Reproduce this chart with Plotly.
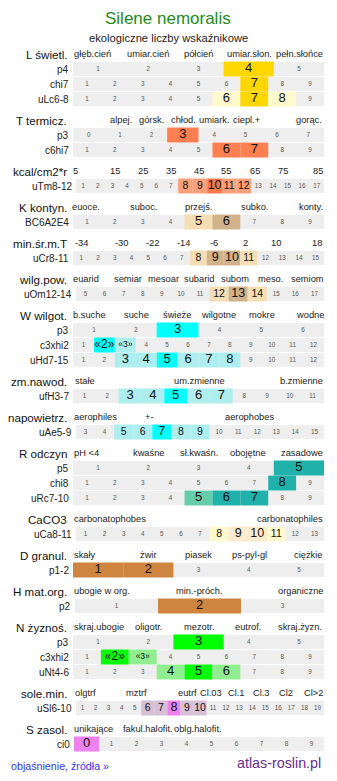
import plotly.graph_objects as go

TITLE = "Silene nemoralis"
SUBTITLE = "ekologiczne liczby wskaźnikowe"
FOOT_LEFT = "objaśnienie, źródła »"
FOOT_RIGHT = "atlas-roslin.pl"

# ---------------- data ----------------
SECTION_NAMES = ["L świetl.", "T termicz.", "kcal/cm2*r", "K kontyn.", "min.śr.m.T",
                 "wilg.pow.", "W wilgot.", "zm.nawod.", "napowietrz.", "R odczyn",
                 "CaCO3", "D granul.", "H mat.org.", "N żyznoś.", "sole.min.", "S zasol."]

SECTION_TICKS = [
    ["głęb.cień", "umiar.cień", "półcień", "umiar.słon.", "pełn.słońce"],
    ["alpej.", "górsk.", "chłod.", "umiark.", "ciepl.+", "gorąc."],
    ["5", "15", "25", "35", "45", "55", "65", "75", "85"],
    ["euoce.", "suboc.", "przejś.", "subko.", "konty."],
    ["-34", "-30", "-22", "-14", "-6", "2", "10", "18"],
    ["euarid", "semiar", "mesoar", "subarid", "subom", "meso.", "semiom"],
    ["b.suche", "suche", "świeże", "wilgotne", "mokre", "wodne"],
    ["stałe", "um.zmienne", "b.zmienne"],
    ["aerophiles", "+-", "aerophobes"],
    ["pH <4", "kwaśne", "sł.kwaśn.", "obojętne", "zasadowe"],
    ["carbonatophobes", "carbonatophiles"],
    ["skały", "żwir", "piasek", "ps-pyl-gl", "ciężkie"],
    ["ubogie w org.", "min.-próch.", "organiczne"],
    ["skraj.ubogie", "oligotr.", "mezotr.", "eutrof.", "skraj.żyzn."],
    ["olgtrf", "mztrf", "eutrf", "Cl.03", "Cl.1", "Cl.3", "Cl2", "Cl>2"],
    ["unikające", "fakul.halofit.", "oblg.halofit."],
]

ROW_SECTION = [0, 0, 0, 1, 1, 2, 3, 4, 5, 6, 6, 6, 7, 8, 9, 9, 9, 10, 11, 12, 13, 13, 13, 14, 15]
ROW_LABELS = ["p4", "chi7", "uLc6-8", "p3", "c6hi7", "uTm8-12", "BC6A2E4", "uCr8-11",
              "uOm12-14", "p3", "c3xhi2", "uHd7-15", "ufH3-7", "uAe5-9", "p5", "chi8",
              "uRc7-10", "uCa8-11", "p1-2", "p2", "p3", "c3xhi2", "uNt4-6", "uSl6-10", "ci0"]
ROW_FIRST = [1, 1, 1, 0, 1, 1, 1, 1, 5, 1, 1, 1, 1, 3, 1, 1, 1, 1, 1, 1, 1, 1, 1, 1, 0]
ROW_LAST = [5, 9, 9, 7, 9, 17, 9, 15, 17, 6, 12, 12, 11, 15, 5, 9, 9, 13, 5, 3, 5, 9, 9, 19, 9]
ROW_MAIN = [[4], [7], [7], [3], [6, 7], [10], [6], [9, 10], [13], [3], [2], [5], [5], [7],
            [5], [8], [6, 7], [9, 10], [1, 2], [2], [3], [2], [5], [8], [0]]
ROW_SECOND = [[], [], [6, 8], [], [], [8, 9, 11, 12], [5], [8, 11], [12, 14], [], [3],
              [3, 4, 6, 7, 8], [3, 4, 6, 7], [5, 6, 8, 9], [], [], [5], [8, 11], [], [], [],
              [3], [4, 6], [6, 7, 9, 10], []]
ROW_CHEVRON = ["c3xhi2"]

# ---------------- styles / layout ----------------
MAIN_COL = ["#FFD700", "#FF7F50", "#F7784A", "#D2B48C", "#D2B48C", "#D2B48C", "#00FFFF",
            "#00FFFF", "#00FFFF", "#20B2AA", "#FFEBCD", "#CD853F", "#CD853F", "#00FF00",
            "#EE82EE", "#EE82EE"]
SEC_COL = ["#FFFACD", "#FFA07A", "#FFA07A", "#F5DEB3", "#F5DEB3", "#F5DEB3", "#AFEEEE",
           "#AFEEEE", "#AFEEEE", "#66CDAA", "#FFFACD", "#CD853F", "#CD853F", "#90EE90",
           "#D8BFD8", "#D8BFD8"]

TICK_X = [
    [92.5, 148, 198, 249, 299.5],
    [121, 151, 183, 214, 246, 309],
    [75, 115, 143, 171, 199, 226, 255, 283, 318],
    [86, 143, 198, 254, 311],
    [81, 121, 152, 183, 214, 245, 276, 317],
    [86, 128, 163, 199, 235, 270, 307],
    [89, 136, 177, 218, 262, 310],
    [85, 199, 301],
    [95, 149, 249],
    [86, 149, 199, 248, 302],
    [110, 290],
    [85, 148, 198, 249, 308],
    [102, 199, 300],
    [99, 148, 199, 248, 300],
    [85, 136, 187, 211, 236, 261, 286, 313],
    [93, 148, 198],
]
STRIP_LEFT_DEFAULT = 73
STRIP_LEFT = {"uTm8-12": 76, "uOm12-14": 76, "uAe5-9": 76, "uCa8-11": 76, "uSl6-10": 76,
              "ci0": 74, "p2": 75}
STRIP_RIGHT = 324
FIRST_HEADER_Y = 54
ROW_STEP = 15
SECTION_GAP = 21
FONT = "Liberation Sans, Arial, sans-serif"

# compute vertical positions
header_y = []
row_y = []
y = FIRST_HEADER_Y
for s in range(len(SECTION_NAMES)):
    header_y.append(y)
    rows = [i for i, rs in enumerate(ROW_SECTION) if rs == s]
    for k, i in enumerate(rows):
        row_y.append(y + ROW_STEP * (k + 1))
    y = y + ROW_STEP * len(rows) + SECTION_GAP

fig = go.Figure()

# grey strips
g_y, g_base, g_len = [], [], []
h_y, h_base, h_len, h_col = [], [], [], []
t_x, t_y, t_txt, t_size, t_col = [], [], [], [], []
for i, lab in enumerate(ROW_LABELS):
    left = STRIP_LEFT.get(lab, STRIP_LEFT_DEFAULT)
    n = ROW_LAST[i] - ROW_FIRST[i] + 1
    cw = (STRIP_RIGHT - left) / n
    g_y.append(row_y[i]); g_base.append(left); g_len.append(STRIP_RIGHT - left)
    s = ROW_SECTION[i]
    chev = lab in ROW_CHEVRON and s in (6, 13)
    for v in range(ROW_FIRST[i], ROW_LAST[i] + 1):
        k = v - ROW_FIRST[i]
        cx = left + (k + 0.5) * cw
        if v in ROW_MAIN[i] or v in ROW_SECOND[i]:
            main = v in ROW_MAIN[i]
            h_y.append(row_y[i]); h_base.append(left + k * cw); h_len.append(cw)
            h_col.append(MAIN_COL[s] if main else SEC_COL[s])
            if chev:
                txt = "«%d»" % v
                size = 12 if main else 8.5
            else:
                txt = str(v)
                if cw >= 20:
                    size = 13
                else:
                    size = 12.5 if main else 10.5
            t_txt.append(txt); t_size.append(size); t_col.append("#111111")
        else:
            t_txt.append(str(v)); t_size.append(6.3); t_col.append("#555555")
        t_x.append(cx); t_y.append(row_y[i])

fig.add_trace(go.Bar(orientation="h", y=g_y, x=g_len, base=g_base, width=14,
                     marker=dict(color="#EEEEEE", line=dict(width=0)), hoverinfo="skip"))
fig.add_trace(go.Bar(orientation="h", y=h_y, x=h_len, base=h_base, width=15,
                     marker=dict(color=h_col, line=dict(width=0)), hoverinfo="skip"))
fig.add_trace(go.Scatter(x=t_x, y=t_y, mode="text", text=t_txt,
                         textposition="middle center",
                         textfont=dict(family=FONT, size=t_size, color=t_col),
                         hoverinfo="skip"))

ann = []
ann.append(dict(x=168, y=18, text=TITLE, showarrow=False, xanchor="center", yanchor="middle",
                font=dict(family=FONT, size=17, color="#228B22")))
ann.append(dict(x=168, y=38, text=SUBTITLE, showarrow=False, xanchor="center", yanchor="middle",
                font=dict(family=FONT, size=11.2, color="#222222")))
for s, name in enumerate(SECTION_NAMES):
    ann.append(dict(x=69, y=header_y[s], text=name, showarrow=False, xanchor="right",
                    yanchor="middle", font=dict(family=FONT, size=11.6, color="#111111")))
    for lab, xx in zip(SECTION_TICKS[s], TICK_X[s]):
        ann.append(dict(x=xx, y=header_y[s], text=lab, showarrow=False, xanchor="center",
                        yanchor="middle", font=dict(family=FONT, size=9.3, color="#222222")))
for i, lab in enumerate(ROW_LABELS):
    left = STRIP_LEFT.get(lab, STRIP_LEFT_DEFAULT)
    ann.append(dict(x=left - 2, y=row_y[i], text=lab, showarrow=False, xanchor="right",
                    yanchor="middle", font=dict(family=FONT, size=10, color="#222222")))
ann.append(dict(x=9, y=766, text=FOOT_LEFT, showarrow=False, xanchor="left", yanchor="middle",
                font=dict(family=FONT, size=10.7, color="#3333EE")))
ann.append(dict(x=323, y=763, text=FOOT_RIGHT, showarrow=False, xanchor="right", yanchor="middle",
                font=dict(family=FONT, size=14.3, color="#662D91")))

fig.update_layout(
    width=337, height=781, autosize=False,
    margin=dict(l=0, r=0, t=0, b=0),
    paper_bgcolor="white", plot_bgcolor="white",
    showlegend=False, barmode="overlay",
    xaxis=dict(range=[0, 337], visible=False, fixedrange=True),
    yaxis=dict(range=[781, 0], visible=False, fixedrange=True),
    annotations=ann,
)
fig.write_html("out.html", config={"displayModeBar": False})
